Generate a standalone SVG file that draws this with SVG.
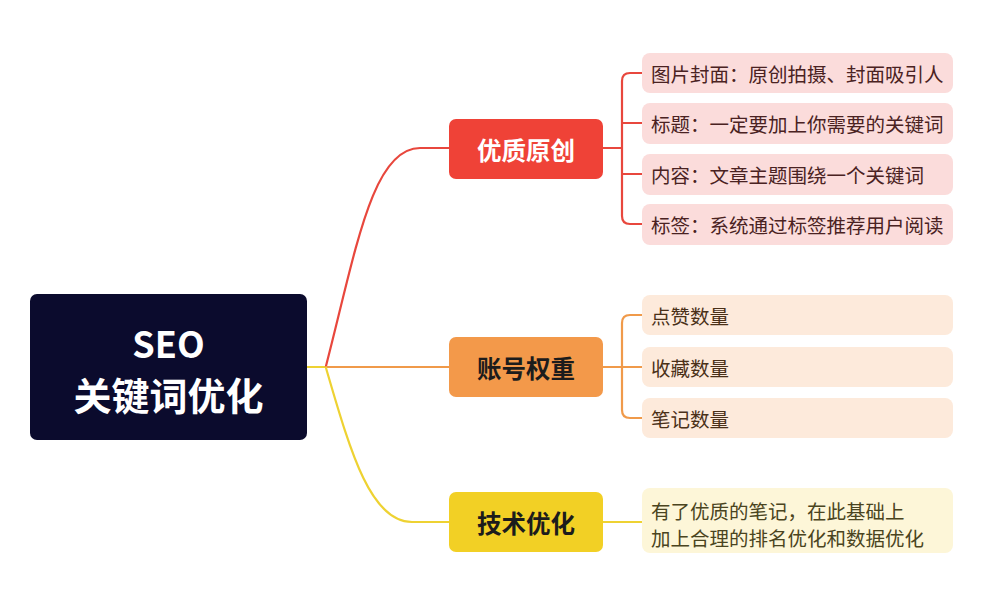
<svg xmlns="http://www.w3.org/2000/svg" width="1000" height="589" viewBox="0 0 1000 589">
<style>
.t{font-family:"Noto Sans CJK SC","Noto Sans",sans-serif;dominant-baseline:central}
.root{fill:#ffffff;font-weight:700}
.l1{font-size:24.5px;font-weight:700;text-anchor:middle}
.l2{font-size:19.5px}
.c{fill:none;stroke-width:2.2;stroke-linecap:round;stroke-linejoin:round}
.red{stroke:#e8473d}
.org{stroke:#f09a4a}
.yel{stroke:#eed232}
</style>
<rect width="1000" height="589" fill="#ffffff"/>
<g id="connectors">
  <path class="c yel" d="M307,367 L326,367"/>
  <path class="c red" d="M326,366 C356,250 372,148 420,148 L449,148"/>
  <path class="c org" d="M326,367 L449,367"/>
  <path class="c yel" d="M326,368 C350,450 370,522 412,522 L449,522"/>
  <path class="c red" d="M603,148 L622,148 M642,73 L630,73 Q622,73 622,81 L622,216 Q622,224 630,224 L642,224 M622,123 L642,123 M622,174 L642,174"/>
  <path class="c org" d="M603,367 L642,367 M642,315 L630,315 Q622,315 622,323 L622,410 Q622,418 630,418 L642,418"/>
  <path class="c yel" d="M603,522 L642,522"/>
</g>
<g id="root">
  <rect x="30" y="294" width="277" height="146" rx="7" fill="#0b0b2d"/>
  <text class="t root" x="168.5" y="342" font-size="36" text-anchor="middle">SEO</text>
  <text class="t root" x="168.5" y="393" font-size="38" text-anchor="middle">关键词优化</text>
</g>
<g id="n-youzhi">
  <rect x="449" y="119" width="154" height="60" rx="7" fill="#ef4237"/>
  <text class="t l1" x="526" y="149" fill="#ffffff">优质原创</text>
</g>
<g id="n-zhanghao">
  <rect x="449" y="337" width="154" height="60" rx="7" fill="#f3994a"/>
  <text class="t l1" x="526" y="367" fill="#1c1c1c">账号权重</text>
</g>
<g id="n-jishu">
  <rect x="449" y="492" width="154" height="60" rx="7" fill="#f2d025"/>
  <text class="t l1" x="526" y="522" fill="#1c1c1c">技术优化</text>
</g>
<g id="n-r1">
  <rect x="642" y="53" width="311" height="40" rx="8" fill="#fbdcdb"/>
  <text class="t l2" x="651" y="73" fill="#4a2222">图片封面：原创拍摄、封面吸引人</text>
</g>
<g id="n-r2">
  <rect x="642" y="103" width="311" height="41" rx="8" fill="#fbdcdb"/>
  <text class="t l2" x="651" y="123.5" fill="#4a2222">标题：一定要加上你需要的关键词</text>
</g>
<g id="n-r3">
  <rect x="642" y="154" width="311" height="41" rx="8" fill="#fbdcdb"/>
  <text class="t l2" x="651" y="174.5" fill="#4a2222">内容：文章主题围绕一个关键词</text>
</g>
<g id="n-r4">
  <rect x="642" y="204" width="311" height="41" rx="8" fill="#fbdcdb"/>
  <text class="t l2" x="651" y="224.5" fill="#4a2222">标签：系统通过标签推荐用户阅读</text>
</g>
<g id="n-o1">
  <rect x="642" y="295" width="311" height="40" rx="8" fill="#fdeadb"/>
  <text class="t l2" x="651" y="315" fill="#4a3018">点赞数量</text>
</g>
<g id="n-o2">
  <rect x="642" y="347" width="311" height="40" rx="8" fill="#fdeadb"/>
  <text class="t l2" x="651" y="367" fill="#4a3018">收藏数量</text>
</g>
<g id="n-o3">
  <rect x="642" y="398" width="311" height="40" rx="8" fill="#fdeadb"/>
  <text class="t l2" x="651" y="418" fill="#4a3018">笔记数量</text>
</g>
<g id="n-y1">
  <rect x="642" y="488" width="311" height="65" rx="8" fill="#fdf6d8"/>
  <text class="t l2" x="651" y="510" fill="#4a4420">有了优质的笔记，在此基础上</text>
  <text class="t l2" x="651" y="537" fill="#4a4420">加上合理的排名优化和数据优化</text>
</g>
</svg>
